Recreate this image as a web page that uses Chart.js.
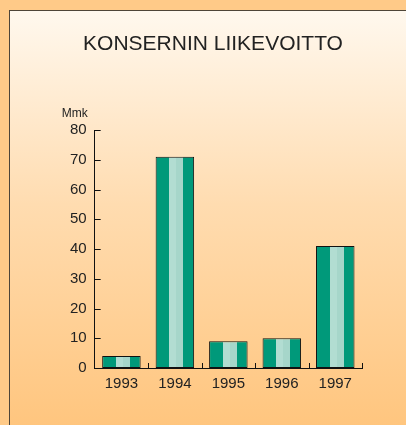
<!DOCTYPE html>
<html>
<head>
<meta charset="utf-8">
<script src="https://cdn.jsdelivr.net/npm/chart.js@4"></script>
<style>
  html, body { margin: 0; padding: 0; }
  body {
    width: 406px;
    height: 425px;
    overflow: hidden;
    background: #ffca88;
    position: relative;
    font-family: "Liberation Sans", Arial, sans-serif;
  }
  #panel {
    position: absolute;
    left: 9px;
    top: 10px;
    width: 420px;
    height: 430px;
    border-left: 1px solid #4e4538;
    border-top: 1px solid #4e4538;
    background: linear-gradient(#fff8ee 0%, #ffdcb0 45%, #ffc47b 100%);
  }
  #wrap {
    position: absolute;
    left: 0;
    top: 0;
    width: 406px;
    height: 425px;
  }
</style>
</head>
<body>
<div id="panel"></div>
<div id="wrap"><canvas id="myChart"></canvas></div>
<script>
const titleText = "KONSERNIN LIIKEVOITTO";
const unitText = "Mmk";
const years = ["1993", "1994", "1995", "1996", "1997"];
const profit = [4, 71, 9, 10, 41];

const barShare = 0.72;

// vertical stripes inside each bar: dark / light / lighter / dark
const barFill = (ctx) => {
  const chart = ctx.chart;
  const xs = chart.scales.x;
  if (!xs || ctx.type !== "data" || !chart.chartArea) return "#00997a";
  const cx = xs.getPixelForValue(ctx.dataIndex);
  const w = (xs.width / years.length) * barShare;
  const g = chart.ctx.createLinearGradient(cx - w / 2, 0, cx + w / 2, 0);
  g.addColorStop(0, "#00997a");
  g.addColorStop(0.36, "#00997a");
  g.addColorStop(0.36, "#b2ddd2");
  g.addColorStop(0.54, "#b2ddd2");
  g.addColorStop(0.54, "#a6d6ca");
  g.addColorStop(0.72, "#a6d6ca");
  g.addColorStop(0.72, "#00997a");
  g.addColorStop(1, "#00997a");
  return g;
};

const decorations = {
  id: "decorations",
  afterDraw(chart) {
    const { ctx, chartArea, scales } = chart;
    ctx.save();
    ctx.strokeStyle = "#111";
    ctx.lineWidth = 1;
    // inward ticks on y axis
    scales.y.ticks.forEach((t) => {
      const y = Math.round(scales.y.getPixelForValue(t.value)) + 0.5;
      ctx.beginPath();
      ctx.moveTo(chartArea.left, y);
      ctx.lineTo(chartArea.left + 6, y);
      ctx.stroke();
    });
    // inward ticks between categories
    const step = scales.x.width / years.length;
    for (let i = 1; i <= years.length; i++) {
      const x = Math.round(chartArea.left + i * step) + 0.5;
      ctx.beginPath();
      ctx.moveTo(x, chartArea.bottom);
      ctx.lineTo(x, chartArea.bottom - 5);
      ctx.stroke();
    }
    ctx.fillStyle = "#222";
    ctx.font = "21px 'Liberation Sans', Arial, sans-serif";
    ctx.textAlign = "center";
    ctx.textBaseline = "middle";
    ctx.fillText(titleText, 213, 44);
    ctx.font = "12px 'Liberation Sans', Arial, sans-serif";
    ctx.textAlign = "right";
    ctx.fillText(unitText, chartArea.left - 7, chartArea.top - 16);
    ctx.restore();
  },
};

const config = {
  type: "bar",
  data: {
    labels: years,
    datasets: [
      {
        data: profit,
        backgroundColor: barFill,
        borderColor: "#111",
        borderWidth: 1,
        borderSkipped: false,
        categoryPercentage: 1,
        barPercentage: barShare,
      },
    ],
  },
  options: {
    responsive: true,
    maintainAspectRatio: false,
    animation: false,
    layout: {
      padding: { left: 62, right: 44, top: 130, bottom: 25 },
    },
    plugins: {
      legend: { display: false },
      title: { display: false },
      tooltip: { enabled: false },
    },
    scales: {
      x: {
        grid: { display: false, drawTicks: false },
        border: { display: true, color: "#111", width: 1 },
        ticks: {
          color: "#222",
          padding: 7,
          font: { family: "'Liberation Sans', Arial, sans-serif", size: 15 },
        },
      },
      y: {
        min: 0,
        max: 80,
        grid: { display: false, drawTicks: false },
        border: { display: true, color: "#111", width: 1 },
        ticks: {
          stepSize: 10,
          color: "#222",
          padding: 8,
          font: { family: "'Liberation Sans', Arial, sans-serif", size: 15 },
        },
      },
    },
  },
  plugins: [decorations],
};

const chart = new Chart(document.getElementById("myChart"), config);
</script>
</body>
</html>
